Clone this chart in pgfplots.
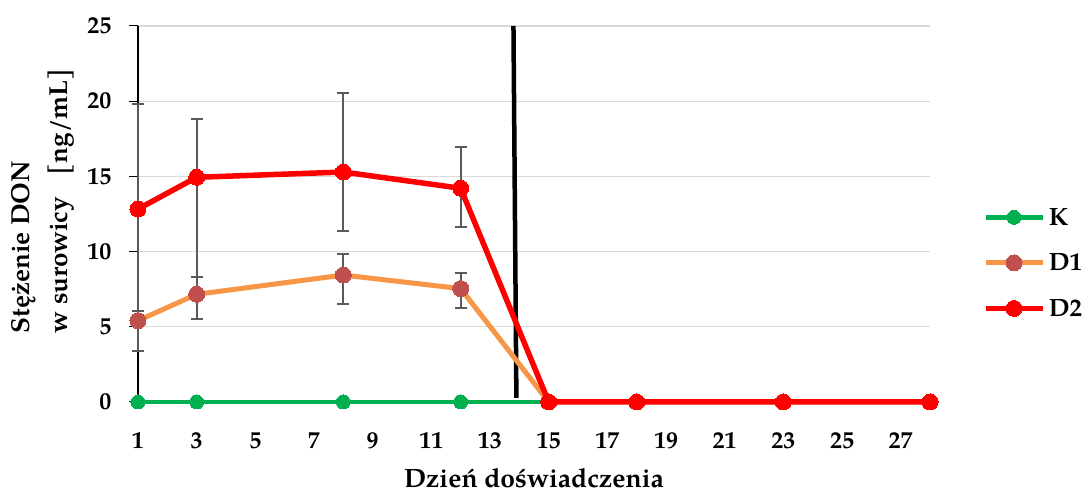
\documentclass[border=0pt]{standalone}
\usepackage{fontspec}
\setmainfont{TeX Gyre Pagella}
\usepackage{pgfplots}
\pgfplotsset{compat=1.18}
\definecolor{kgreen}{HTML}{00B050}
\definecolor{dorange}{HTML}{F79646}
\definecolor{dmark}{HTML}{C0504D}
\definecolor{dred}{HTML}{FF0000}
\definecolor{ebar}{HTML}{5A5A5A}
\definecolor{gridc}{HTML}{D9D9D9}
\begin{document}
\begin{tikzpicture}
\useasboundingbox (-138pt,-93pt) rectangle (944pt,402pt);
\begin{axis}[
  at={(0,0)}, anchor=origin,
  scale only axis, width=792pt, height=376pt,
  xmin=1, xmax=28, ymin=0, ymax=25,
  xtick={1,3,...,27}, ytick={0,5,...,25},
  axis lines*=left,
  x axis line style={draw=none},
  y axis line style={black, line width=1.8pt},
  xtick style={draw=none},
  ytick style={black, line width=1pt},
  major tick length=9pt, tick align=outside,
  ymajorgrids, grid style={gridc, line width=1.2pt},
  clip=false,
  /pgf/number format/assume math mode=true,
  ticklabel style={font=\fontsize{24}{28}\selectfont\bfseries},
  yticklabel style={xshift=-14pt},
  xticklabel style={yshift=-18pt},
  xlabel={Dzień doświadczenia},
  xlabel style={font=\fontsize{26.5}{30}\selectfont\bfseries, inner sep=0pt, at={(axis description cs:0.5,-0.228)}, anchor=base},
  ylabel={Stężenie DON\\w surowicy\hspace{22pt}[ng/mL]},
  ylabel style={font=\fontsize{26}{38}\selectfont\bfseries, align=left, at={(axis description cs:-0.12,0.535)}, anchor=center},
  legend style={at={(axis description cs:1.067,0.37)}, anchor=west, draw=none, fill=none,
     font=\fontsize{25}{28}\selectfont\bfseries, row sep=21pt, inner sep=0pt,
     nodes={inner sep=3pt}},
  legend cell align=left,
  legend image code/.code={\draw[mark repeat=2,mark phase=2,#1] plot coordinates {(0pt,0pt) (28pt,0pt) (57pt,0pt)};},
]
% vertical marker line
\addplot[forget plot, black, line width=4.5pt, mark=none] coordinates {(13.8,25) (13.9,0.27)};
% error bars D2
\addplot[forget plot, draw=none, mark=none,
  error bars/.cd, y dir=both, y explicit,
  error bar style={draw=ebar, line width=2.2pt},
  error mark options={rotate=90, draw=ebar, mark size=6pt, line width=2.2pt}]
  coordinates {
  (1,12.83) += (0,6.97) -= (0,6.76)
  (3,14.94) += (0,3.88) -= (0,9.40)
  (8,15.29) += (0,5.23) -= (0,3.90)
  (12,14.21) += (0,2.77) -= (0,2.55)
  };
% error bars D1
\addplot[forget plot, draw=none, mark=none,
  error bars/.cd, y dir=both, y explicit,
  error bar style={draw=ebar, line width=2.2pt},
  error mark options={rotate=90, draw=ebar, mark size=6pt, line width=2.2pt}]
  coordinates {
  (1,5.41) += (0,0.0) -= (0,2.00)
  (3,7.16) += (0,1.13) -= (0,0.0)
  (8,8.44) += (0,1.40) -= (0,1.90)
  (12,7.54) += (0,1.06) -= (0,1.27)
  };
\addplot[kgreen, line width=4.5pt, mark=*, mark size=7pt, mark options={fill=kgreen, draw=kgreen, line width=0pt}]
  coordinates {(1,0) (3,0) (8,0) (12,0) (15,0) (18,0) (23,0) (28,0)};
\addlegendentry{K}
\addplot[dorange, line width=5pt, mark=*, mark size=8pt, mark options={fill=dmark, draw=dmark, line width=0pt}]
  coordinates {(1,5.41) (3,7.16) (8,8.44) (12,7.54) (15,0) (18,0) (23,0) (28,0)};
\addlegendentry{D1}
\addplot[dred, line width=5.5pt, mark=*, mark size=8pt, mark options={fill=dred, draw=dred, line width=0pt}]
  coordinates {(1,12.83) (3,14.94) (8,15.29) (12,14.21) (15,0) (18,0) (23,0) (28,0)};
\addlegendentry{D2}
\end{axis}
\end{tikzpicture}
\end{document}
